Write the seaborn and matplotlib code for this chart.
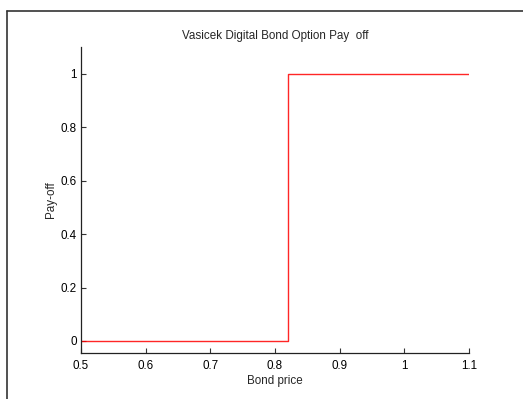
import matplotlib
matplotlib.use("Agg")
import matplotlib.pyplot as plt
import seaborn as sns
import pandas as pd

# Digital bond option payoff: 0 below the strike, 1 at and above it
bond_price = [0.5, 0.82, 0.82, 1.1]
payoff = [0.0, 0.0, 1.0, 1.0]
x_ticks = [0.5, 0.6, 0.7, 0.8, 0.9, 1.0, 1.1]
x_tick_labels = ["0.5", "0.6", "0.7", "0.8", "0.9", "1", "1.1"]
y_ticks = [0, 0.2, 0.4, 0.6, 0.8, 1.0]
y_tick_labels = ["0", "0.2", "0.4", "0.6", "0.8", "1"]

sns.set_style("white")
plt.rcParams["font.family"] = ["Liberation Sans", "DejaVu Sans"]

df = pd.DataFrame({"Bond price": bond_price, "Pay-off": payoff})

fig = plt.figure(figsize=(5.23, 3.99), dpi=100)
ax = fig.add_axes([81 / 523, 1 - 353 / 399, 388 / 523, 306 / 399])

sns.lineplot(data=df, x="Bond price", y="Pay-off", sort=False, estimator=None,
             color="#ff0000", linewidth=1.0, alpha=0.85, ax=ax)

ax.set_xlim(0.5, 1.1)
ax.set_ylim(-0.045, 1.1)
ax.set_xticks(x_ticks)
ax.set_xticklabels(x_tick_labels)
ax.set_yticks(y_ticks)
ax.set_yticklabels(y_tick_labels)

for side in ("top", "right"):
    ax.spines[side].set_visible(False)
for side in ("left", "bottom"):
    ax.spines[side].set_color("#222222")
    ax.spines[side].set_linewidth(0.9)

ax.tick_params(direction="in", length=3.5, width=0.8, colors="#333333",
               labelsize=8.4, labelcolor="black")
ax.tick_params(axis="x", bottom=True, pad=5)
ax.tick_params(axis="y", left=True, pad=3)

ax.set_xlabel("Bond price", fontsize=8.4, labelpad=2)
ax.set_ylabel("Pay-off", fontsize=8.4, labelpad=3)
ax.set_title("Vasicek Digital Bond Option Pay  off", fontsize=8.4, pad=5.5)

# Outer frame along the top and left edges of the figure
fig.add_artist(plt.Line2D([7 / 523, 1.0], [1 - 10.5 / 399, 1 - 10.5 / 399],
                          transform=fig.transFigure, color="#333333", linewidth=1.2))
fig.add_artist(plt.Line2D([7 / 523, 7 / 523], [0.0, 1 - 10.5 / 399],
                          transform=fig.transFigure, color="#333333", linewidth=1.2))

fig.savefig("out.png", dpi=100, facecolor="white")
